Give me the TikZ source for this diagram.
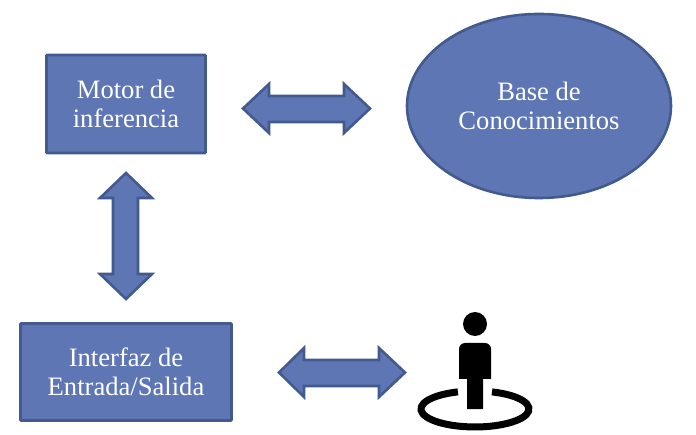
\documentclass[tikz,border=0pt]{standalone}
\usepackage{fontspec}
\usetikzlibrary{shapes.geometric}
\setmainfont{Liberation Serif}
\definecolor{fillblue}{HTML}{5F76B4}
\definecolor{edgeblue}{HTML}{425A8E}
\tikzset{
  blockbox/.style={draw=edgeblue,fill=fillblue,line width=2.6pt,rounded corners=0.6pt,inner sep=0pt,text=white,align=center,font=\fontsize{26.6}{29}\selectfont},
  blockarrow/.style={draw=edgeblue,fill=fillblue,line width=2.6pt,line join=miter},
  figure/.style={fill=black,draw=none}
}
\begin{document}
\begin{tikzpicture}[x=1pt,y=-1pt]
\useasboundingbox (0,0) rectangle (696,435);
\node[blockbox,minimum width=159pt,minimum height=98pt] (motor) at (126,104) {Motor de\\inferencia};
\node[blockbox,ellipse,minimum width=264pt,minimum height=184pt] (base) at (539,106) {Base de\\Conocimientos};
\node[blockbox,minimum width=211pt,minimum height=97pt] (io) at (126,372) {Interfaz de\\Entrada/Salida};
% horizontal double arrow: motor - base
\draw[blockarrow] (243,108.5) -- (269,84) -- (269,96) -- (344,96) -- (344,84) -- (370,108.5) -- (344,133) -- (344,122) -- (269,122) -- (269,133) -- cycle;
% vertical double arrow: motor - io
\draw[blockarrow] (126,173) -- (152,198) -- (138,198) -- (138,274) -- (152,274) -- (126,299) -- (100,274) -- (113,274) -- (113,198) -- (100,198) -- cycle;
% horizontal double arrow: io - user
\draw[blockarrow] (279,372.5) -- (304,348) -- (304,360) -- (379,360) -- (379,348) -- (405,372.5) -- (379,397) -- (379,386) -- (304,386) -- (304,397) -- cycle;
% user figure
\fill[figure] (475,324) circle (12);
\fill[figure] (459,379) -- (459,349) arc[start angle=180,end angle=270,radius=6] -- (485,343) arc[start angle=270,end angle=360,radius=6] -- (491,379) -- (483,379) -- (483,409) -- (467,409) -- (467,379) -- cycle;
\draw[line width=7pt,black] (492,391.9) arc[start angle=-71.6,end angle=251.6,x radius=54,y radius=18];
\end{tikzpicture}
\end{document}
